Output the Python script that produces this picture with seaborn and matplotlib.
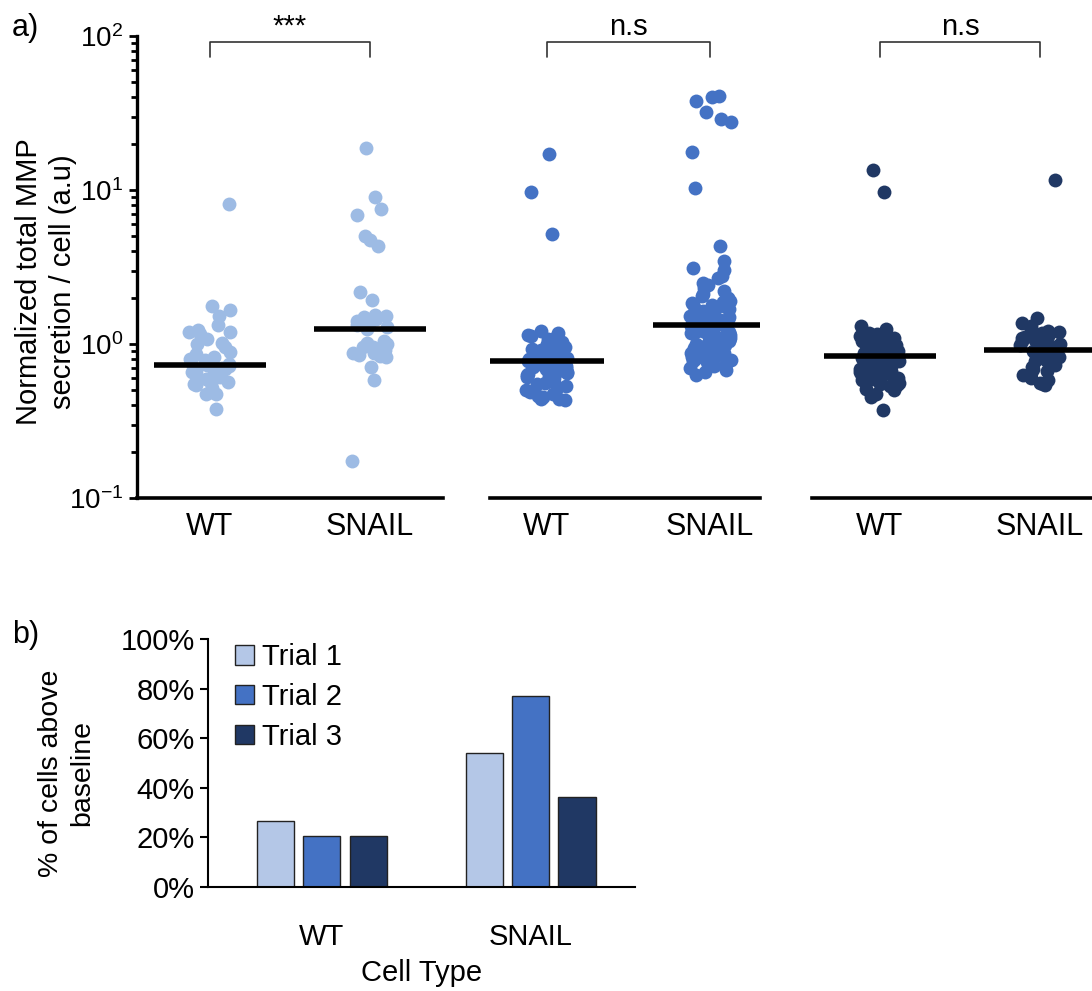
import numpy as np
import pandas as pd
import matplotlib.pyplot as plt
import seaborn as sns

# ---- data ----
cell_types = ['WT', 'SNAIL']
trials = ['Trial 1', 'Trial 2', 'Trial 3']

wt_trial1 = [8.1, 1.76, 1.67, 1.51, 1.33, 1.24, 1.2, 1.19, 1.16, 1.08, 1.01, 1.0, 0.95, 0.89,
             0.86, 0.82, 0.80, 0.79, 0.76, 0.74, 0.73, 0.72, 0.70, 0.69, 0.67, 0.66, 0.65, 0.63,
             0.61, 0.59, 0.58, 0.57, 0.56, 0.55, 0.54, 0.52, 0.49, 0.47, 0.47, 0.38]
snail_trial1 = [18.6, 9.05, 7.5, 6.9, 5.05, 4.7, 4.3, 2.16, 1.94, 1.54, 1.51, 1.49, 1.45, 1.42,
                1.38, 1.33, 1.28, 1.25, 1.05, 1.01, 1.0, 0.98, 0.96, 0.95, 0.93, 0.92, 0.9, 0.88,
                0.87, 0.85, 0.83, 0.82, 0.71, 0.58, 0.175]
wt_trial2 = [17.1, 9.75, 5.18,
             1.22, 1.18, 1.15, 1.12, 1.1, 1.08, 1.05, 1.03, 1.0, 0.99, 0.97, 0.96, 0.95, 0.93,
             0.92, 0.91, 0.9, 0.89, 0.88, 0.87, 0.86, 0.85, 0.84, 0.83, 0.82, 0.82, 0.81, 0.8,
             0.8, 0.79, 0.79, 0.78,
             0.77, 0.77, 0.76, 0.75, 0.75, 0.74, 0.73, 0.72, 0.71, 0.7, 0.69, 0.68, 0.67, 0.66,
             0.65, 0.64, 0.63, 0.62, 0.61, 0.6, 0.58, 0.57, 0.56, 0.55, 0.53, 0.52, 0.5, 0.49,
             0.47, 0.46, 0.45, 0.44, 0.44, 0.43]
snail_trial2 = [41, 40, 38, 32, 29, 27.5, 17.7, 10.3, 4.3, 3.47, 3.1, 3.04, 2.78, 2.67, 2.5,
                2.4, 2.3, 2.2,
                2.1, 2.05, 2.0, 1.95, 1.9, 1.88, 1.85, 1.82, 1.8, 1.78, 1.75, 1.72, 1.7, 1.68,
                1.65, 1.63, 1.6, 1.58, 1.56, 1.55, 1.53, 1.52, 1.5, 1.49, 1.48, 1.46, 1.45, 1.44,
                1.42, 1.41, 1.4, 1.39, 1.38, 1.37, 1.36, 1.35, 1.34, 1.33,
                1.32, 1.31, 1.3, 1.29, 1.28, 1.27, 1.26, 1.25, 1.24, 1.23, 1.22, 1.21, 1.2, 1.19,
                1.18, 1.17, 1.16, 1.15, 1.14, 1.13, 1.12, 1.1, 1.09, 1.08, 1.06, 1.05, 1.04, 1.02,
                1.0, 0.99, 0.98, 0.97, 0.95, 0.94, 0.93, 0.92, 0.9, 0.89, 0.88, 0.87, 0.86, 0.85,
                0.84, 0.83, 0.82, 0.8, 0.79, 0.78, 0.76, 0.74, 0.72, 0.7, 0.68, 0.66, 0.63]
wt_trial3 = [13.5, 9.66,
             1.31, 1.25, 1.2, 1.18, 1.16, 1.15, 1.13, 1.12, 1.1, 1.09, 1.08, 1.07, 1.06, 1.05,
             1.04, 1.03, 1.02, 1.01, 1.0, 0.99, 0.98, 0.97, 0.96, 0.95, 0.94, 0.93, 0.92, 0.91,
             0.9, 0.9, 0.89, 0.88, 0.87, 0.87, 0.86, 0.85, 0.85, 0.84, 0.84, 0.83,
             0.82, 0.82, 0.81, 0.8, 0.8, 0.79, 0.78, 0.78, 0.77, 0.76, 0.75, 0.75, 0.74, 0.73,
             0.72, 0.71, 0.7, 0.69, 0.68, 0.67, 0.66, 0.65, 0.64, 0.63, 0.62, 0.61, 0.6, 0.59,
             0.58, 0.57, 0.56, 0.55, 0.55, 0.54, 0.53, 0.52, 0.51, 0.5, 0.47, 0.45, 0.37]
snail_trial3 = [11.6, 1.47, 1.36, 1.3, 1.25, 1.22, 1.2, 1.18, 1.15, 1.13, 1.11, 1.1, 1.08, 1.06,
                1.05, 1.04, 1.02, 1.01, 1.0, 0.99, 0.98, 0.97, 0.96, 0.95, 0.94, 0.93, 0.92,
                0.91, 0.9, 0.9, 0.89, 0.88, 0.87, 0.86, 0.85, 0.84, 0.83, 0.82, 0.8, 0.79, 0.77,
                0.75, 0.73, 0.71, 0.69, 0.67, 0.65, 0.63, 0.6, 0.58, 0.56, 0.55, 0.54]
significance = ['***', 'n.s', 'n.s']

pct_wt = [26.5, 20.6, 20.6]
pct_snail = [54.1, 77.1, 36.2]

point_colors = ['#9DBBE4', '#4472C4', '#203864']
bar_colors = ['#B4C7E7', '#4472C4', '#203864']

# ---- tidy tables ----
rows = []
for t, (wt, sn) in enumerate([(wt_trial1, snail_trial1), (wt_trial2, snail_trial2),
                              (wt_trial3, snail_trial3)]):
    rows += [(trials[t], 'WT', v) for v in wt]
    rows += [(trials[t], 'SNAIL', v) for v in sn]
df = pd.DataFrame(rows, columns=['trial', 'cell', 'value'])

bars = pd.DataFrame({'cell': ['WT'] * 3 + ['SNAIL'] * 3,
                     'trial': trials * 2,
                     'pct': pct_wt + pct_snail})

sns.set_style('ticks')
plt.rcParams['font.family'] = ['Liberation Sans', 'DejaVu Sans']
plt.rcParams['mathtext.fontset'] = 'custom'
plt.rcParams['mathtext.rm'] = 'Liberation Sans'
for k in ['text.color', 'axes.labelcolor', 'xtick.color', 'ytick.color', 'axes.edgecolor']:
    plt.rcParams[k] = 'black'

fig = plt.figure(figsize=(10.92, 9.91), dpi=100)
W, H = 1092, 991

# panel a: three axes side by side (pixel positions from reference)
ax_px = [(137, 443, -0.456, 1.456), (490, 760, -0.35, 1.307), (812, 1108, -0.425, 1.425)]
np.random.seed(4)
for i, (x0, x1, xl, xr) in enumerate(ax_px):
    ax = fig.add_axes([x0 / W, 1 - 498 / H, (x1 - x0) / W, (498 - 36) / H])
    sub = df[df['trial'] == trials[i]]
    sns.stripplot(data=sub, x='cell', y='value', order=cell_types, ax=ax,
                  color=point_colors[i], size=10, jitter=0.13, linewidth=0, alpha=1)
    ax.set_yscale('log')
    ax.set_ylim(0.1, 100)
    ax.set_xlim(xl, xr)
    meds = sub.groupby('cell')['value'].median()
    for j, c in enumerate(cell_types):
        ax.hlines(meds[c], j - 0.35, j + 0.35, color='black', lw=4, zorder=5)
    # significance bracket
    ax.plot([0, 0, 1, 1], [73, 91.5, 91.5, 73], color='#333333', lw=1.2, clip_on=False)
    ax.text(0.5, 115, significance[i], ha='center', va='center', fontsize=21, clip_on=False)
    ax.set_xlabel('')
    ax.set_ylabel('')
    ax.tick_params(axis='x', length=0, labelsize=22, pad=10)
    for s in ['top', 'right']:
        ax.spines[s].set_visible(False)
    ax.spines['bottom'].set_linewidth(2.6)
    if i == 0:
        ax.spines['left'].set_linewidth(2.4)
        ax.tick_params(axis='y', which='major', length=6, width=2, labelsize=20, pad=4)
        ax.tick_params(axis='y', which='minor', length=4, width=2)
    else:
        ax.spines['left'].set_visible(False)
        ax.tick_params(axis='y', which='both', left=False, labelleft=False)

fig.text(46 / W, 1 - 282 / H, 'Normalized total MMP\nsecretion / cell (a.u)', rotation=90,
         ha='center', va='center', fontsize=21, linespacing=1.25)
fig.text(12 / W, 1 - 28 / H, 'a)', ha='left', va='center', fontsize=22)

# panel b: bar chart
axb = fig.add_axes([208 / W, 1 - 887 / H, (635 - 208) / W, (887 - 639) / H])
sns.barplot(data=bars, x='cell', y='pct', hue='trial', order=cell_types, hue_order=trials,
            palette=bar_colors, saturation=1, width=0.667, gap=0.2, edgecolor='#222222',
            linewidth=1.0, ax=axb)
axb.set_ylim(0, 100)
axb.set_xlim(-0.545, 1.5)
axb.set_yticks(range(0, 101, 20))
axb.set_yticklabels([f'{v}%' for v in range(0, 101, 20)])
axb.tick_params(axis='y', length=6, width=1.5, labelsize=21)
axb.tick_params(axis='x', length=0, labelsize=21, pad=26)
for s in ['top', 'right']:
    axb.spines[s].set_visible(False)
axb.spines['left'].set_linewidth(1.5)
axb.spines['bottom'].set_linewidth(1.5)
axb.set_ylabel('')
axb.set_xlabel('Cell Type', fontsize=21, labelpad=6)
axb.legend(title=None, loc='upper left', bbox_to_anchor=(0.035, 1.03), frameon=False,
           fontsize=21, handlelength=0.65, handleheight=0.65, handletextpad=0.3,
           labelspacing=0.4, borderaxespad=0)

fig.text(67 / W, 1 - 773 / H, '% of cells above\nbaseline', rotation=90,
         ha='center', va='center', fontsize=20.5, linespacing=1.25)
fig.text(12 / W, 1 - 635 / H, 'b)', ha='left', va='center', fontsize=22)

fig.savefig('out.png', dpi=100)
